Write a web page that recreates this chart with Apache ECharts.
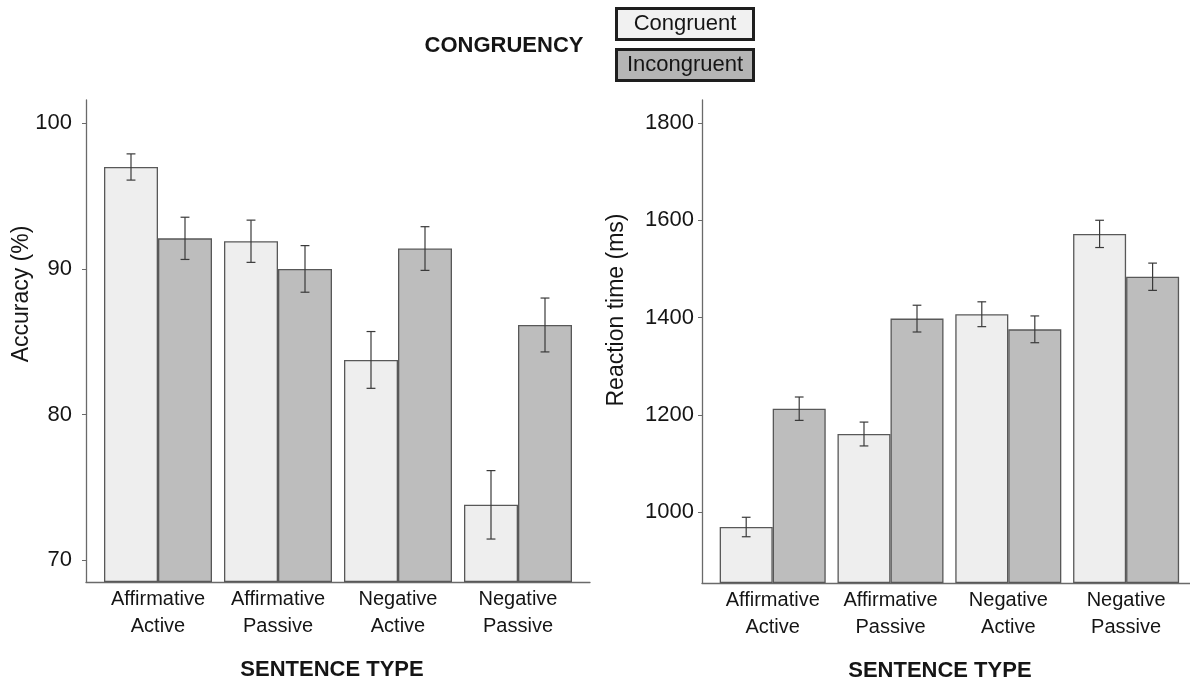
<!DOCTYPE html>
<html>
<head>
<meta charset="utf-8">
<script src="https://cdn.jsdelivr.net/npm/echarts@6/dist/echarts.min.js"></script>
<style>
html,body{margin:0;padding:0;background:#fff;}
#chart{width:1190px;height:681px;}
</style>
</head>
<body>
<div id="chart"></div>
<script>
const categories = ['Affirmative\nActive', 'Affirmative\nPassive', 'Negative\nActive', 'Negative\nPassive'];
const seriesNames = ['Congruent', 'Incongruent'];

const accCongruent = [97.0, 91.9, 83.75, 73.8];
const accCongruentErr = [0.9, 1.45, 1.95, 2.35];
const accIncongruent = [92.1, 90.0, 91.4, 86.15];
const accIncongruentErr = [1.45, 1.6, 1.5, 1.85];

const rtCongruent = [970, 1161, 1407, 1572];
const rtCongruentErr = [20, 24.5, 25.5, 28];
const rtIncongruent = [1213, 1398, 1376, 1484];
const rtIncongruentErr = [24, 27.5, 27.5, 28];

const accTicks = [70, 80, 90, 100];
const rtTicks = [1000, 1200, 1400, 1600, 1800];

const FONT = 'Liberation Sans, Arial, Helvetica, sans-serif';
const AXIS_COLOR = '#6a6a6a';
const TEXT_COLOR = '#151515';
const C_FILL = '#eeeeee';
const I_FILL = '#bdbdbd';
const BAR_BORDER = '#585858';

function errData(vals, errs, sign) {
  return vals.map((v, i) => [i, v, errs[i], sign]);
}

function renderErr(params, api) {
  const i = api.value(0), v = api.value(1), e = api.value(2), s = api.value(3);
  const band = api.size([1, 0])[0];
  const cx = api.coord([i, v])[0] + s * band * 0.225;
  const yt = api.coord([i, v + e])[1];
  const yb = api.coord([i, v - e])[1];
  const hw = band * 0.037;
  const st = { stroke: '#3a3a3a', lineWidth: 1.2 };
  return {
    type: 'group',
    children: [
      { type: 'line', shape: { x1: cx - hw, y1: yt, x2: cx + hw, y2: yt }, style: st },
      { type: 'line', shape: { x1: cx, y1: yt, x2: cx, y2: yb }, style: st },
      { type: 'line', shape: { x1: cx - hw, y1: yb, x2: cx + hw, y2: yb }, style: st }
    ]
  };
}

function frameX(gi) {
  return {
    gridIndex: gi, type: 'value', min: 0, max: 1,
    axisLine: { show: true, onZero: false, lineStyle: { color: AXIS_COLOR, width: 1.3 } },
    axisTick: { show: false }, axisLabel: { show: false }, splitLine: { show: false }
  };
}
function catX(gi, namePad) {
  return {
    gridIndex: gi, type: 'category', data: categories,
    axisLine: { show: false }, axisTick: { show: false }, splitLine: { show: false },
    axisLabel: { fontSize: 20, lineHeight: 27, color: TEXT_COLOR, fontFamily: FONT, margin: 4, interval: 0 },
    name: 'SENTENCE TYPE', nameLocation: 'middle', nameGap: 77, nameMoveOverlap: false,
    nameTextStyle: { fontSize: 22, fontWeight: 'bold', color: TEXT_COLOR, fontFamily: FONT, padding: [0, namePad, 0, 0] }
  };
}
function frameY(gi, min, max, ticks, margin) {
  return {
    gridIndex: gi, type: 'value', min: min, max: max,
    axisLine: { show: true, onZero: false, lineStyle: { color: AXIS_COLOR, width: 1.3 } },
    axisTick: { show: true, length: 4, customValues: ticks, lineStyle: { color: AXIS_COLOR } },
    axisLabel: { show: true, customValues: ticks, fontSize: 22, color: TEXT_COLOR, fontFamily: FONT, margin: margin,
                 formatter: function (v) { return String(v); } },
    splitLine: { show: false }
  };
}
function hiddenY(gi, min, max) {
  return { gridIndex: gi, type: 'value', min: min, max: max, startValue: min, show: false, splitLine: { show: false } };
}
function bar(name, data, xi, yi, color) {
  return {
    name: name, type: 'bar', xAxisIndex: xi, yAxisIndex: yi, data: data,
    barWidth: '45%', barGap: '0%',
    itemStyle: { color: color, borderColor: BAR_BORDER, borderWidth: 1.3 },
    emphasis: { disabled: true }
  };
}
function errSeries(data, xi, yi) {
  return {
    type: 'custom', xAxisIndex: xi, yAxisIndex: yi, data: data,
    encode: { x: 0, y: 1 }, renderItem: renderErr, z: 5, silent: true
  };
}

const ACC_MIN = 68.5, ACC_MAX = 101.6;
const RT_MIN = 855, RT_MAX = 1847;

const option = {
  animation: false,
  backgroundColor: '#ffffff',
  textStyle: { fontFamily: FONT },
  grid: [
    { left: 86, top: 100, width: 504, height: 482, outerBoundsMode: 'none', containLabel: false },
    { left: 98, top: 100, width: 480, height: 482, outerBoundsMode: 'none', containLabel: false },
    { left: 702, top: 100, width: 495, height: 483, outerBoundsMode: 'none', containLabel: false },
    { left: 713.8, top: 100, width: 471.2, height: 483, outerBoundsMode: 'none', containLabel: false }
  ],
  xAxis: [frameX(0), catX(1, 12), frameX(2), catX(3, 19)],
  yAxis: [
    frameY(0, ACC_MIN, ACC_MAX, accTicks, 14),
    hiddenY(1, ACC_MIN, ACC_MAX),
    frameY(2, RT_MIN, RT_MAX, rtTicks, 8),
    hiddenY(3, RT_MIN, RT_MAX)
  ],
  legend: {
    orient: 'vertical', left: 607, top: 2, itemGap: 7,
    itemWidth: 0, itemHeight: 0, icon: 'rect',
    data: seriesNames,
    selectedMode: false,
    formatter: function (n) { return n === 'Congruent' ? '{c|' + n + '}' : '{i|' + n + '}'; },
    textStyle: {
      fontFamily: FONT, fontSize: 22, color: TEXT_COLOR,
      rich: {
        c: { width: 134, height: 28, lineHeight: 28, align: 'center', fontSize: 22, fontFamily: FONT, color: TEXT_COLOR,
             backgroundColor: '#f1f1f1', borderColor: '#1e1e1e', borderWidth: 3 },
        i: { width: 134, height: 28, lineHeight: 28, align: 'center', fontSize: 22, fontFamily: FONT, color: TEXT_COLOR,
             backgroundColor: '#b5b5b5', borderColor: '#1e1e1e', borderWidth: 3 }
      }
    }
  },
  graphic: [
    { type: 'text', x: 504, y: 46, style: { text: 'CONGRUENCY', fontSize: 22, fontWeight: 'bold', fontFamily: FONT, fill: TEXT_COLOR, textAlign: 'center', textVerticalAlign: 'middle' } },
    { type: 'text', x: 22, y: 294, rotation: Math.PI / 2, style: { text: 'Accuracy (%)', fontSize: 23, fontFamily: FONT, fill: TEXT_COLOR, textAlign: 'center', textVerticalAlign: 'middle' } },
    { type: 'text', x: 617, y: 310, rotation: Math.PI / 2, style: { text: 'Reaction time (ms)', fontSize: 23, fontFamily: FONT, fill: TEXT_COLOR, textAlign: 'center', textVerticalAlign: 'middle' } }
  ],
  series: [
    bar('Congruent', accCongruent, 1, 1, C_FILL),
    bar('Incongruent', accIncongruent, 1, 1, I_FILL),
    errSeries(errData(accCongruent, accCongruentErr, -1), 1, 1),
    errSeries(errData(accIncongruent, accIncongruentErr, 1), 1, 1),
    bar('Congruent', rtCongruent, 3, 3, C_FILL),
    bar('Incongruent', rtIncongruent, 3, 3, I_FILL),
    errSeries(errData(rtCongruent, rtCongruentErr, -1), 3, 3),
    errSeries(errData(rtIncongruent, rtIncongruentErr, 1), 3, 3)
  ]
};

const chart = echarts.init(document.getElementById('chart'), null, { renderer: 'canvas' });
chart.setOption(option);
</script>
</body>
</html>
